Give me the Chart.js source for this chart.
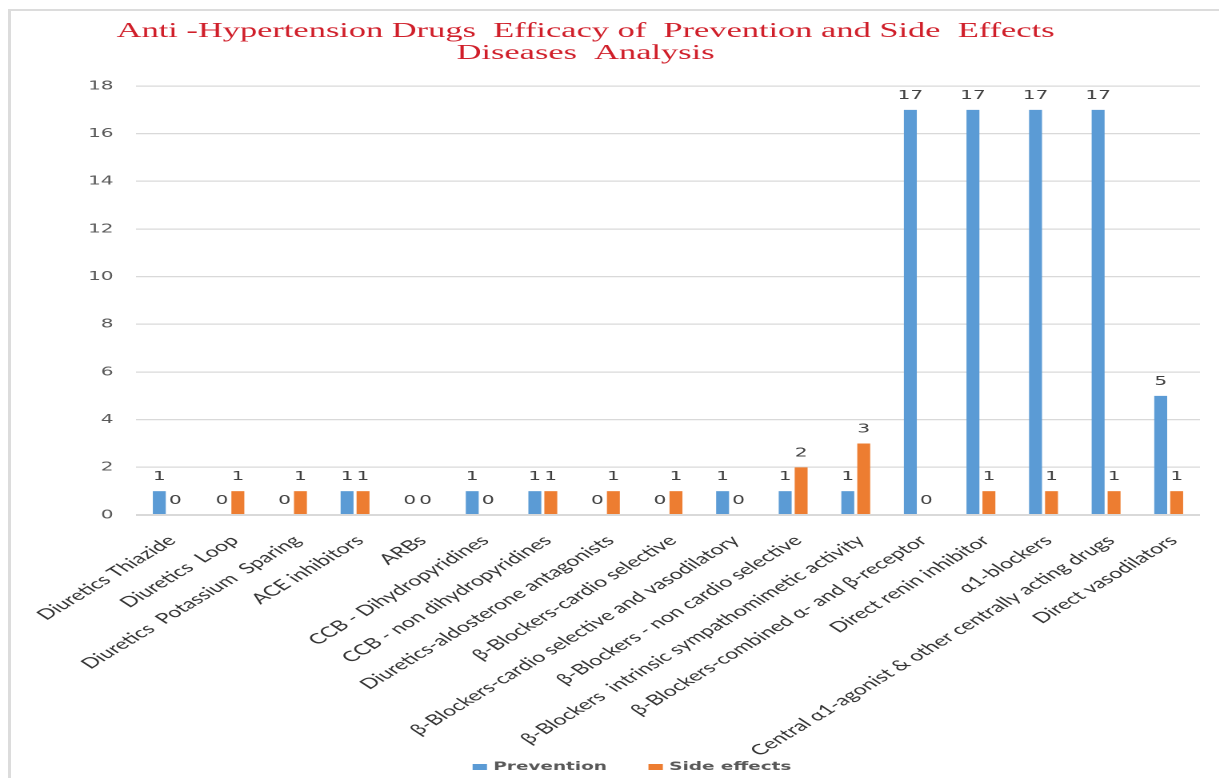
<!DOCTYPE html>
<html>
<head>
<meta charset="utf-8">
<script src="https://cdn.jsdelivr.net/npm/chart.js@4"></script>
<style>
  html, body { margin: 0; padding: 0; background: #fff; overflow: hidden; }
  #frame {
    position: absolute; left: 8px; top: 9px; right: 0; bottom: -5px;
    border-top: 2px solid #dcdcdc; border-left: 3px solid #dcdcdc;
  }
  /* the reference picture is stretched sideways, so the chart is too */
  #wrap {
    position: absolute; left: 0; top: 0; width: 762px; height: 778px;
    transform: scaleX(1.6); transform-origin: 0 0;
  }
</style>
</head>
<body>
<div id="frame"></div>
<div id="wrap">
  <canvas id="chart" width="762" height="778" style="width:762px;height:778px"></canvas>
</div>
<script>
const titleLines = [
  'Anti -Hypertension Drugs  Efficacy of  Prevention and Side  Effects',
  'Diseases  Analysis'
];

const categories = [
  'Diuretics Thiazide',
  'Diuretics  Loop',
  'Diuretics  Potassium  Sparing',
  'ACE inhibitors',
  'ARBs',
  'CCB - Dihydropyridines',
  'CCB - non dihydropyridines',
  'Diuretics-aldosterone antagonists',
  'β-Blockers-cardio selective',
  'β-Blockers-cardio selective and vasodilatory',
  'β-Blockers - non cardio selective',
  'β-Blockers  intrinsic sympathomimetic activity',
  'β-Blockers-combined α- and β-receptor',
  'Direct renin inhibitor',
  'α1-blockers',
  'Central α1-agonist & other centrally acting drugs',
  'Direct vasodilators'
];

const prevention  = [1, 0, 0, 1, 0, 1, 1, 0, 0, 1, 1, 1, 17, 17, 17, 17, 5];
const sideEffects = [0, 1, 1, 1, 0, 0, 1, 1, 1, 0, 2, 3, 0, 1, 1, 1, 1];

const yMax = 18;
const yStep = 2;

// title drawn by hand so it can sit left of the canvas centre like the original
const titlePlugin = {
  id: 'titleText',
  afterDraw(chart) {
    const ctx = chart.ctx;
    ctx.save();
    ctx.font = '21.5px "Liberation Serif"';
    ctx.fillStyle = '#d01f2a';
    ctx.textAlign = 'center';
    ctx.textBaseline = 'alphabetic';
    titleLines.forEach((t, i) => ctx.fillText(t, 366, 37 + i * 22));
    ctx.restore();
  }
};

// value above every bar (zeros included)
const valueLabels = {
  id: 'valueLabels',
  afterDatasetsDraw(chart) {
    const ctx = chart.ctx;
    ctx.save();
    ctx.font = '12.5px "DejaVu Sans"';
    ctx.fillStyle = '#404040';
    ctx.textAlign = 'center';
    ctx.textBaseline = 'alphabetic';
    chart.data.datasets.forEach((ds, i) => {
      chart.getDatasetMeta(i).data.forEach((bar, j) => {
        ctx.fillText(String(ds.data[j]), bar.x, bar.y - 11);
      });
    });
    ctx.restore();
  }
};

// legend at the very bottom
const bottomLegend = {
  id: 'bottomLegend',
  afterDraw(chart) {
    const ctx = chart.ctx;
    const boxW = 9, boxH = 6, gap = 4, spacing = 26;
    const cx = 395, cy = 767;
    ctx.save();
    ctx.font = 'bold 11.5px "DejaVu Sans"';
    ctx.textBaseline = 'middle';
    ctx.textAlign = 'left';
    const items = chart.data.datasets.map(ds => ({
      text: ds.label, color: ds.backgroundColor,
      w: boxW + gap + ctx.measureText(ds.label).width
    }));
    const total = items.reduce((s, it) => s + it.w, 0) + spacing * (items.length - 1);
    let x = cx - total / 2;
    items.forEach(it => {
      ctx.fillStyle = it.color;
      ctx.fillRect(x, cy - boxH / 2, boxW, boxH);
      ctx.fillStyle = '#595959';
      ctx.fillText(it.text, x + boxW + gap, cy);
      x += it.w + spacing;
    });
    ctx.restore();
  }
};

const ctx = document.getElementById('chart').getContext('2d');
new Chart(ctx, {
  type: 'bar',
  data: {
    labels: categories,
    datasets: [
      {
        label: 'Prevention',
        data: prevention,
        backgroundColor: '#5b9bd5',
        categoryPercentage: 0.51,
        barPercentage: 0.81
      },
      {
        label: 'Side effects',
        data: sideEffects,
        backgroundColor: '#ed7d31',
        categoryPercentage: 0.51,
        barPercentage: 0.81
      }
    ]
  },
  options: {
    responsive: false,
    animation: false,
    devicePixelRatio: 2,
    layout: { padding: { left: 0, right: 12, top: 86, bottom: 0 } },
    plugins: {
      legend: { display: false },
      title: { display: false },
      tooltip: { enabled: false }
    },
    scales: {
      x: {
        grid: { display: false },
        border: { display: false },
        ticks: {
          autoSkip: false,
          minRotation: 44,
          maxRotation: 44,
          padding: 9,
          labelOffset: 3,
          color: '#333333',
          font: { family: 'Lato', size: 14.5 }
        },
        afterFit: scale => { scale.height = 263; }
      },
      y: {
        min: 0,
        max: yMax,
        border: { display: false },
        grid: {
          color: '#d9d9d9',
          drawTicks: false,
          lineWidth: c => (c.tick.value === 0 ? 2 : 1.2)
        },
        ticks: {
          stepSize: yStep,
          padding: 14,
          color: '#595959',
          font: { family: 'DejaVu Sans', size: 12.5 }
        },
        afterFit: scale => { scale.width = 85; }
      }
    }
  },
  plugins: [titlePlugin, valueLabels, bottomLegend]
});
</script>
</body>
</html>
